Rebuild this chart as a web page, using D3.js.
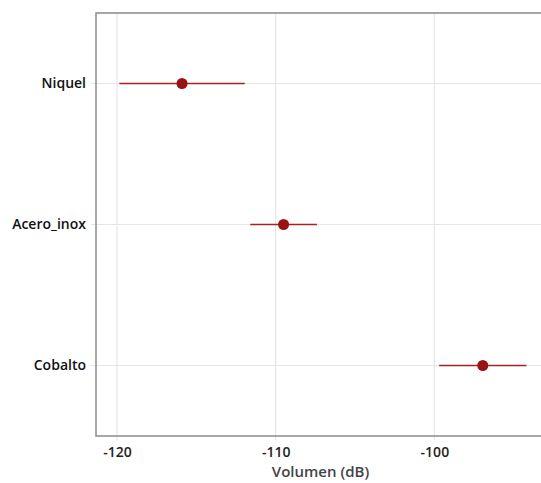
<!DOCTYPE html>
<html>
<head>
<meta charset="utf-8">
<script src="https://cdn.jsdelivr.net/npm/d3@7"></script>
<style>
    body { margin: 0; background: #fff; }
    text { font-family: "Open Sans", "Noto Sans", sans-serif; }
</style>
</head>
<body>
<div id="chart"></div>
<script>
const categories = ['Niquel', 'Acero_inox', 'Cobalto'];
const means = [-115.9, -109.5, -96.95];
const lower = [-119.85, -111.6, -99.7];
const upper = [-111.95, -107.4, -94.2];
const xTicks = [-120, -110, -100];

const width = 541, height = 483;
const margin = {top: 13, right: -4, bottom: 47, left: 96};
const innerW = width - margin.left - margin.right;
const innerH = height - margin.top - margin.bottom;

const rows = categories.map((c, i) => ({cat: c, mean: means[i], lo: lower[i], hi: upper[i]}));

const svg = d3.select('#chart').append('svg')
    .attr('width', width)
    .attr('height', height);

const g = svg.append('g')
    .attr('transform', `translate(${margin.left},${margin.top})`);

const x = d3.scaleLinear()
    .domain([-121.32, -93.03])
    .range([0, innerW]);

const y = d3.scalePoint()
    .domain(categories)
    .range([0, innerH])
    .padding(0.5);

// Grid lines
g.selectAll('.vgrid')
    .data(xTicks)
    .enter().append('line')
    .attr('x1', d => x(d)).attr('x2', d => x(d))
    .attr('y1', 0).attr('y2', innerH + 4)
    .attr('stroke', '#e6e6e6')
    .attr('stroke-width', 1.2);

g.selectAll('.hgrid')
    .data(categories)
    .enter().append('line')
    .attr('x1', -5).attr('x2', innerW)
    .attr('y1', d => y(d)).attr('y2', d => y(d))
    .attr('stroke', '#e6e6e6')
    .attr('stroke-width', 1.2);

// Axes (labels only, ticks drawn with grid)
const xAxis = g.append('g')
    .attr('transform', `translate(0,${innerH})`)
    .call(d3.axisBottom(x).tickValues(xTicks).tickSize(0).tickPadding(11)
        .tickFormat(d => String(d)));
xAxis.select('.domain').remove();
xAxis.selectAll('text')
    .style('font-size', '14px')
    .style('font-weight', '600')
    .attr('fill', '#222');

const yAxis = g.append('g')
    .call(d3.axisLeft(y).tickSize(0).tickPadding(10));
yAxis.select('.domain').remove();
yAxis.selectAll('text')
    .style('font-size', '14px')
    .style('font-weight', '600')
    .attr('fill', '#111');

// Panel border
g.append('rect')
    .attr('x', 0).attr('y', 0)
    .attr('width', innerW).attr('height', innerH)
    .attr('fill', 'none')
    .attr('stroke', '#8a8a8a')
    .attr('stroke-width', 1.5);

// Interval bars
g.selectAll('.bar')
    .data(rows)
    .enter().append('line')
    .attr('x1', d => x(d.lo)).attr('x2', d => x(d.hi))
    .attr('y1', d => y(d.cat)).attr('y2', d => y(d.cat))
    .attr('stroke', '#a82222')
    .attr('stroke-width', 1.5);

// Mean points
g.selectAll('.pt')
    .data(rows)
    .enter().append('circle')
    .attr('cx', d => x(d.mean))
    .attr('cy', d => y(d.cat))
    .attr('r', 5.5)
    .attr('fill', '#991313');

// Axis title
svg.append('text')
    .attr('x', margin.left + (x(-93.03) - x(-121.32)) / 2)
    .attr('y', 477)
    .attr('text-anchor', 'middle')
    .style('font-size', '15px')
    .style('font-weight', '600')
    .attr('fill', '#444')
    .text('Volumen (dB)');
</script>
</body>
</html>
